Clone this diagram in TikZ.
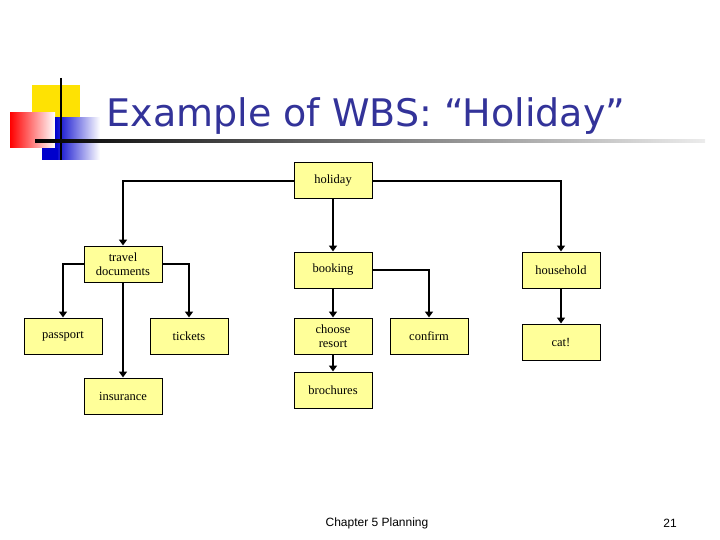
\documentclass[tikz,border=0pt]{standalone}
\usepackage{fontspec}
\setmainfont{Liberation Serif}
\newfontfamily\titlefont{DejaVu Sans}
\newfontfamily\footfont{Liberation Sans}
\usetikzlibrary{arrows.meta}
\definecolor{boxfill}{HTML}{FFFF99}
\definecolor{titleblue}{HTML}{333399}
\tikzset{
  wbs/.style={draw=black, fill=boxfill, minimum width=78pt, minimum height=36pt, inner sep=1pt, align=center, font=\fontsize{12.5}{14}\selectfont, line width=1pt},
  conn/.style={line width=2.6pt, -{Triangle[length=6pt,width=8pt]}}
}
\begin{document}
\begin{tikzpicture}[x=1pt,y=-1pt]
\useasboundingbox (0,0) rectangle (720,540);
% logo
\fill[yellow!85!orange] (32,85) rectangle (80,130);
\shade[left color=red, right color=white] (10,113) rectangle (55,148);
\shade[left color=blue!80!black, right color=white] (55,118) rectangle (100,160);
\fill[blue!80!black] (42,148) rectangle (58,160);
\draw[line width=2.5pt] (61,78) -- (61,160);
\shade[left color=black, right color=white!85!gray] (35,140) rectangle (705,143);
\node[font=\titlefont\fontsize{38}{42}\selectfont, text=titleblue, anchor=base] (title) at (366,127) {Example of WBS: “Holiday”};
% nodes
\node[wbs] (hol) at (333,181) {holiday};
\node[wbs] (trav) at (123,264) {travel\\documents};
\node[wbs] (pass) at (63,336) {passport};
\node[wbs] (tick) at (189,336) {tickets};
\node[wbs] (ins) at (123,396) {insurance};
\node[wbs] (book) at (333,270) {booking};
\node[wbs] (choose) at (333,336) {choose\\resort};
\node[wbs] (broch) at (333,390) {brochures};
\node[wbs] (conf) at (429,336) {confirm};
\node[wbs] (house) at (561,270) {household};
\node[wbs] (cat) at (561,342) {cat!};
% connectors
\draw[conn] (hol.west) -| (trav.north);
\draw[conn] (hol.east) -| (house.north);
\draw[conn] (hol.south) -- (book.north);
\draw[conn] (trav.west) -| (pass.north);
\draw[conn] (trav.east) -| (tick.north);
\draw[conn] (trav.south) -- (ins.north);
\draw[conn] (book.south) -- (choose.north);
\draw[conn] (book.east) -| (conf.north);
\draw[conn] (choose.south) -- (broch.north);
\draw[conn] (house.south) -- (cat.north);
% footer
\node[font=\footfont\fontsize{12}{14}\selectfont] (foot) at (377,523) {Chapter 5 Planning};
\node[font=\footfont\fontsize{12}{14}\selectfont] (page) at (670,523) {21};
\end{tikzpicture}
\end{document}
